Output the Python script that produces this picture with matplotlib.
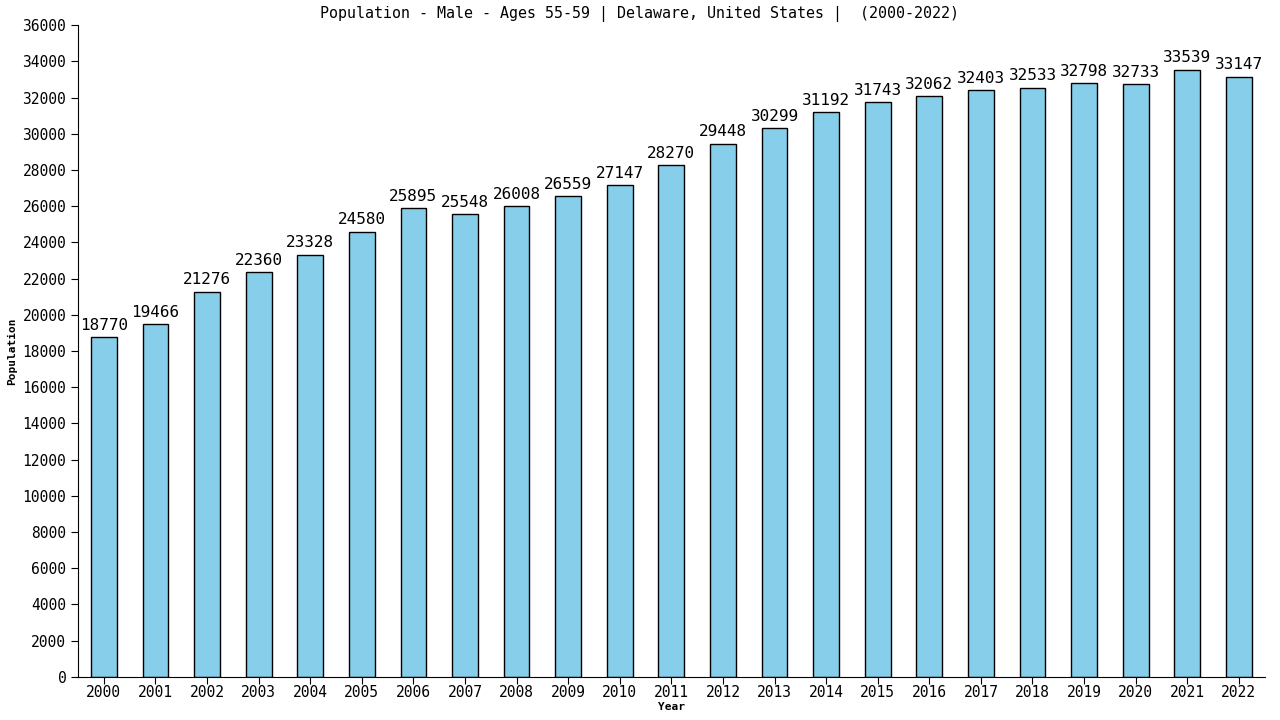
import matplotlib
matplotlib.use('Agg')
import matplotlib.pyplot as plt

# data
years = [str(y) for y in range(2000, 2023)]
population = [18770, 19466, 21276, 22360, 23328, 24580, 25895, 25548, 26008, 26559,
              27147, 28270, 29448, 30299, 31192, 31743, 32062, 32403, 32533, 32798,
              32733, 33539, 33147]
y_ticks = list(range(0, 36001, 2000))

plt.rcParams['font.family'] = 'DejaVu Sans Mono'

fig = plt.figure(figsize=(12.8, 7.2), dpi=100)
ax = fig.add_axes([0.061, 0.06, 0.927, 0.905])

x = range(len(years))
bars = ax.bar(x, population, width=0.5, color='#87CEEB', edgecolor='black', linewidth=1)

# value labels above each bar
for xi, v in zip(x, population):
    ax.text(xi, v + 250, str(v), ha='center', va='bottom', fontsize=11.5)

ax.set_xlim(-0.5, len(years) - 0.5)
ax.set_ylim(0, 36000)
ax.set_xticks(list(x))
ax.set_xticklabels(years, fontsize=10.5)
ax.set_yticks(y_ticks)
ax.set_yticklabels([str(t) for t in y_ticks], fontsize=10.5)
ax.spines['top'].set_visible(False)
ax.spines['right'].set_visible(False)
ax.tick_params(length=5)
ax.tick_params(axis='x', pad=1)

ax.set_xlabel('Year', fontsize=8, fontweight='bold', labelpad=1)
ax.set_ylabel('Population', fontsize=8, fontweight='bold')
fig.suptitle('Population - Male - Ages 55-59 | Delaware, United States |  (2000-2022)',
             x=0.5, y=0.992, va='top', fontsize=10.8)

fig.savefig('out.png', dpi=100)
